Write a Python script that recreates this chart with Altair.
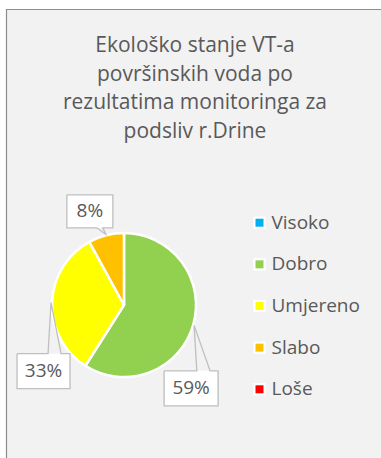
import math
import altair as alt
import pandas as pd

# --- chart data -------------------------------------------------------------
categories = ["Visoko", "Dobro", "Umjereno", "Slabo", "Loše"]
shares = [0, 59, 33, 8, 0]
colors = ["#00b0f0", "#92d050", "#ffff00", "#ffc000", "#ff0000"]
title_lines = [
    "Ekološko stanje VT-a",
    "površinskih voda po",
    "rezultatima monitoringa za",
    "podsliv r.Drine",
]

# --- layout / style ---------------------------------------------------------
W, H = 381, 458
CX, CY, R = 124, 305, 72
FONT = "Open Sans"
TEXT_COLOR = "#595959"
CALLOUT_COLOR = "#bfbfbf"

# callout boxes: centre offset from the pointer tip, box size, side the
# pointer leaves from and where its base sits along that side
callout_style = {
    "Dobro": dict(dx=-3, dy=63, w=54, h=35, side="top", b1=5.7, b2=19),
    "Umjereno": dict(dx=-7.5, dy=68.5, w=53, h=35, side="top", b1=4.5, b2=17.5),
    "Slabo": dict(dx=-16, dy=-23, w=46, h=33, side="bottom", b1=7, b2=13),
}

color_scale = alt.Scale(domain=categories, range=colors)
x_px = alt.Scale(domain=[0, W], range=[0, W], nice=False, zero=False)
y_px = alt.Scale(domain=[0, H], range=[0, H], nice=False, zero=False)

# --- pie --------------------------------------------------------------------
pie_df = pd.DataFrame(
    {"category": categories, "share": shares, "idx": range(len(categories))}
)
pie_df = pie_df[pie_df["share"] > 0]

total = sum(shares)
rows_box, rows_path, rows_text = [], [], []
cum = 0
for cat, v in zip(categories, shares):
    if v <= 0:
        continue
    mid = (cum + v / 2) / total * 2 * math.pi
    cum += v
    tx = CX + (R + 1) * math.sin(mid)
    ty = CY - (R + 1) * math.cos(mid)
    st = callout_style[cat]
    bx, by = tx + st["dx"], ty + st["dy"]
    hw, hh = st["w"] / 2, st["h"] / 2
    label = f"{v}%"
    rows_box.append(dict(label=label, x=bx - hw, x2=bx + hw, y=by - hh, y2=by + hh))
    rows_text.append(dict(label=label, x=bx, y=by))
    if st["side"] == "top":
        pts = [
            (bx - hw, by - hh), (bx + st["b1"], by - hh), (tx, ty),
            (bx + st["b2"], by - hh), (bx + hw, by - hh), (bx + hw, by + hh),
            (bx - hw, by + hh), (bx - hw, by - hh),
        ]
    else:
        pts = [
            (bx - hw, by - hh), (bx + hw, by - hh), (bx + hw, by + hh),
            (bx + st["b2"], by + hh), (tx, ty), (bx + st["b1"], by + hh),
            (bx - hw, by + hh), (bx - hw, by - hh),
        ]
    for i, (px, py) in enumerate(pts):
        rows_path.append(dict(label=label, seq=i, x=px, y=py))

box_df = pd.DataFrame(rows_box)
path_df = pd.DataFrame(rows_path)
text_df = pd.DataFrame(rows_text)
one = pd.DataFrame({"k": [0]})

frame = alt.Chart(one).mark_rect(
    fill="#f2f2f2", stroke="#8c8c8c", strokeWidth=1.2
).encode(
    x=alt.value(6.5), x2=alt.value(396), y=alt.value(9.5), y2=alt.value(480)
)

title = alt.Chart(one).mark_text(
    text=title_lines, lineHeight=28.6, font=FONT, fontSize=21,
    color=TEXT_COLOR, align="center", baseline="alphabetic",
).encode(x=alt.value(195), y=alt.value(52.3))

pie = alt.Chart(pie_df).mark_arc(
    outerRadius=R, stroke="white", strokeWidth=2.5
).encode(
    theta=alt.Theta("share:Q", stack=True),
    order=alt.Order("idx:Q"),
    color=alt.Color("category:N", scale=color_scale, legend=None),
    x=alt.value(CX),
    y=alt.value(CY),
)

boxes = alt.Chart(box_df).mark_rect(fill="white").encode(
    x=alt.X("x:Q", scale=x_px, axis=None),
    x2="x2:Q",
    y=alt.Y("y:Q", scale=y_px, axis=None),
    y2="y2:Q",
)

outlines = alt.Chart(path_df).mark_line(
    color=CALLOUT_COLOR, strokeWidth=1.3
).encode(
    x=alt.X("x:Q", scale=x_px, axis=None),
    y=alt.Y("y:Q", scale=y_px, axis=None),
    detail="label:N",
    order=alt.Order("seq:Q"),
)

labels = alt.Chart(text_df).mark_text(
    font=FONT, fontSize=19, color=TEXT_COLOR, align="center", baseline="middle"
).encode(
    x=alt.X("x:Q", scale=x_px, axis=None),
    y=alt.Y("y:Q", scale=y_px, axis=None),
    text="label:N",
)

# --- legend -----------------------------------------------------------------
leg_df = pd.DataFrame({"category": categories})
leg_y = alt.Y(
    "category:N", sort=categories, axis=None,
    scale=alt.Scale(type="point", range=[222.7, 389.3], padding=0),
)

leg_bg = alt.Chart(leg_df).mark_square(
    size=150, color="white", opacity=1, strokeWidth=0
).encode(x=alt.value(259.5), y=leg_y)

leg_sw = alt.Chart(leg_df).mark_square(
    size=64, opacity=1, strokeWidth=0
).encode(
    x=alt.value(259.5),
    y=leg_y,
    color=alt.Color("category:N", scale=color_scale, legend=None),
)

leg_txt = alt.Chart(leg_df).mark_text(
    font=FONT, fontSize=19, color=TEXT_COLOR, align="left", baseline="middle"
).encode(x=alt.value(271.5), y=leg_y, text="category:N")

chart = (
    alt.layer(frame, title, pie, boxes, outlines, labels, leg_bg, leg_sw, leg_txt)
    .resolve_scale(y="independent", x="independent")
    .properties(
        width=W, height=H, background="white", padding=0,
        autosize=alt.AutoSizeParams(type="none"),
    )
    .configure_view(stroke=None)
)

chart.save("out.html", embed_options={"renderer": "svg", "actions": False})
